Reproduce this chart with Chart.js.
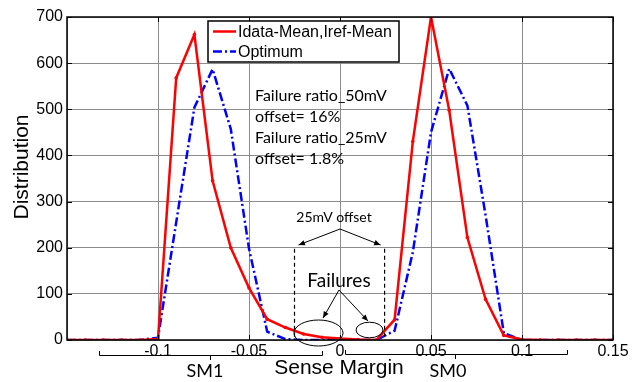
<!DOCTYPE html>
<html>
<head>
<meta charset="utf-8">
<script src="https://cdn.jsdelivr.net/npm/chart.js@4.4.1/dist/chart.umd.min.js"></script>
<style>
  html, body { margin: 0; padding: 0; background: #ffffff; }
  #wrap { width: 632px; height: 382px; position: relative; }
</style>
</head>
<body>
<div id="wrap"><canvas id="c" width="632" height="382"></canvas></div>
<script>
// ---- data ----
const senseMargin = [-0.15, -0.14, -0.13, -0.12, -0.11, -0.10, -0.09, -0.08, -0.07, -0.06,
                     -0.05, -0.04, -0.03, -0.02, -0.01, 0.00, 0.01, 0.02, 0.03, 0.04,
                     0.05, 0.06, 0.07, 0.08, 0.09, 0.10, 0.11, 0.12, 0.13, 0.14, 0.15];
const idataMean = [0, 0, 0, 0, 0, 2, 568, 662, 345, 200,
                   113, 45, 27, 13, 6, 3, 1, 0, 44, 430,
                   700, 498, 222, 88, 10, 1, 0, 0, 0, 0, 0];
const optimum   = [0, 0, 0, 0, 0, 5, 255, 504, 587, 457,
                   198, 18, 2, 0, 0, 0, 0, 0, 20, 190,
                   450, 588, 508, 270, 15, 0, 0, 0, 0, 0, 0];
const seriesNames = ["Idata-Mean,Iref-Mean", "Optimum"];
const xTicks = [-0.1, -0.05, 0, 0.05, 0.1, 0.15];
const yTicks = [0, 100, 200, 300, 400, 500, 600, 700];
const noteLines = ["Failure ratio_50mV", "offset= 16%", "Failure ratio_25mV", "offset= 1.8%"];
const offsetLabel = "25mV offset";
const failuresLabel = "Failures";
const xTitle = "Sense Margin";
const yTitle = "Distribution";
const groupLabels = ["SM1", "SM0"];

const toPts = (ys) => ys.map((y, i) => ({ x: senseMargin[i], y: y }));
const fmt = (v) => String(parseFloat(Number(v).toFixed(3)));

const ARIAL = "'Liberation Sans', Arial, sans-serif";
const CAL = "Lato, 'Open Sans', sans-serif";

function arrow(ctx, x1, y1, x2, y2) {
  ctx.beginPath(); ctx.moveTo(x1, y1); ctx.lineTo(x2, y2); ctx.stroke();
  const a = Math.atan2(y2 - y1, x2 - x1), L = 7, w = 0.4;
  ctx.beginPath();
  ctx.moveTo(x2, y2);
  ctx.lineTo(x2 - L * Math.cos(a - w), y2 - L * Math.sin(a - w));
  ctx.lineTo(x2 - L * Math.cos(a + w), y2 - L * Math.sin(a + w));
  ctx.closePath(); ctx.fill();
}

const decor = {
  id: 'decor',
  afterDraw(chart) {
    const ctx = chart.ctx, xs = chart.scales.x, ys = chart.scales.y, ca = chart.chartArea;
    ctx.save();
    // inward tick marks
    ctx.strokeStyle = '#000'; ctx.lineWidth = 1;
    xTicks.forEach(v => {
      const px = Math.round(xs.getPixelForValue(v)) + 0.5;
      ctx.beginPath(); ctx.moveTo(px, ca.bottom); ctx.lineTo(px, ca.bottom - 5); ctx.stroke();
      ctx.beginPath(); ctx.moveTo(px, ca.top); ctx.lineTo(px, ca.top + 5); ctx.stroke();
    });
    yTicks.forEach(v => {
      const py = Math.round(ys.getPixelForValue(v)) + 0.5;
      ctx.beginPath(); ctx.moveTo(ca.left, py); ctx.lineTo(ca.left + 5, py); ctx.stroke();
      ctx.beginPath(); ctx.moveTo(ca.right, py); ctx.lineTo(ca.right - 5, py); ctx.stroke();
    });
    // frame
    ctx.lineWidth = 1.5;
    ctx.strokeRect(ca.left, ca.top, ca.right - ca.left, ca.bottom - ca.top);

    // legend box
    const lx = 208, ly = 21, lw = 191, lh = 41;
    ctx.fillStyle = '#fff'; ctx.fillRect(lx, ly, lw, lh);
    ctx.lineWidth = 1.5; ctx.strokeStyle = '#000'; ctx.strokeRect(lx, ly, lw, lh);
    const ds = chart.data.datasets;
    [[ds[0], 31.5], [ds[1], 51.5]].forEach(([d, yy]) => {
      ctx.strokeStyle = d.borderColor; ctx.lineWidth = 2.5;
      ctx.setLineDash(d.borderDash || []);
      ctx.beginPath(); ctx.moveTo(213, yy); ctx.lineTo(236, yy); ctx.stroke();
      ctx.setLineDash([]);
      ctx.fillStyle = '#000'; ctx.font = "16px " + ARIAL;
      ctx.textAlign = 'left'; ctx.textBaseline = 'middle';
      ctx.fillText(d.label, 238, yy + 1);
    });

    // note text
    ctx.fillStyle = '#000'; ctx.font = "16px " + CAL;
    ctx.textAlign = 'left'; ctx.textBaseline = 'middle';
    noteLines.forEach((t, i) => ctx.fillText(t, 255, 96 + i * 21));

    // 25mV offset dashed lines
    const xl = xs.getPixelForValue(-0.025), xr = xs.getPixelForValue(0.0245);
    const ytop = ys.getPixelForValue(200) + 1;
    ctx.strokeStyle = '#000'; ctx.lineWidth = 1.2; ctx.setLineDash([4, 3]);
    ctx.beginPath(); ctx.moveTo(xl, ytop); ctx.lineTo(xl, ca.bottom); ctx.stroke();
    ctx.beginPath(); ctx.moveTo(xr, ytop); ctx.lineTo(xr, ca.bottom); ctx.stroke();
    ctx.setLineDash([]);
    ctx.font = "14px " + CAL; ctx.textAlign = 'center';
    ctx.fillText(offsetLabel, 334, 217);
    ctx.lineWidth = 1; ctx.fillStyle = '#000';
    arrow(ctx, 340, 229, xl + 4, 245);
    arrow(ctx, 340, 229, xr - 4, 245);

    // Failures
    ctx.font = "19px " + CAL; ctx.textAlign = 'center';
    ctx.fillText(failuresLabel, 339, 281);
    arrow(ctx, 339, 290, 323, 318);
    arrow(ctx, 339, 290, 368, 321);
    ctx.lineWidth = 1;
    ctx.beginPath(); ctx.ellipse(318.5, 333, 24.5, 13, 0, 0, Math.PI * 2); ctx.stroke();
    ctx.beginPath(); ctx.ellipse(369.5, 330, 13.5, 7.8, 0, 0, Math.PI * 2); ctx.stroke();

    // brackets under x axis
    ctx.lineWidth = 1; ctx.strokeStyle = '#000';
    const br = (x1, x2, xc, y) => {
      ctx.beginPath();
      ctx.moveTo(x1 + 0.5, y - 4); ctx.lineTo(x1 + 0.5, y + 0.5); ctx.lineTo(x2 + 0.5, y + 0.5); ctx.lineTo(x2 + 0.5, y - 4);
      ctx.moveTo(xc + 0.5, y); ctx.lineTo(xc + 0.5, y + 5);
      ctx.stroke();
    };
    br(99, 322, 210, 355);
    br(345, 567, 455, 354);

    // group labels and axis titles
    ctx.fillStyle = '#000';
    ctx.font = "18px " + CAL; ctx.textAlign = 'center'; ctx.textBaseline = 'middle';
    ctx.fillText(groupLabels[0], 205, 371);
    ctx.fillText(groupLabels[1], 448, 371);
    ctx.font = "21px " + ARIAL;
    ctx.fillText(xTitle, 339, 368);
    ctx.save();
    ctx.translate(22, 167); ctx.rotate(-Math.PI / 2);
    ctx.fillText(yTitle, 0, 0);
    ctx.restore();
    ctx.restore();
  }
};

new Chart(document.getElementById('c'), {
  type: 'line',
  data: {
    datasets: [
      {
        label: seriesNames[0], data: toPts(idataMean),
        borderColor: '#ff0000', backgroundColor: '#ff0000', borderWidth: 2.5,
        pointRadius: 1.8, pointBorderWidth: 0, pointBackgroundColor: '#ff0000', tension: 0
      },
      {
        label: seriesNames[1], data: toPts(optimum),
        borderColor: '#0000ff', backgroundColor: '#0000ff', borderWidth: 2.5,
        borderDash: [9, 3, 2, 3], pointRadius: 0, tension: 0
      }
    ]
  },
  options: {
    responsive: false, animation: false, devicePixelRatio: 1,
    layout: { padding: { left: 0, right: 19, top: 17, bottom: 0 } },
    plugins: { legend: { display: false }, tooltip: { enabled: false } },
    scales: {
      x: {
        type: 'linear', min: -0.15, max: 0.15,
        afterFit: (s) => { s.height = 42; },
        afterBuildTicks: (s) => { s.ticks = [-0.15].concat(xTicks).map(v => ({ value: v })); },
        ticks: {
          color: '#000', font: { family: ARIAL, size: 16 }, padding: 2, maxRotation: 0,
          autoSkip: false,
          callback: (v) => (Math.abs(v + 0.15) < 1e-6 ? '' : fmt(v))
        },
        grid: { color: '#8c8c8c', lineWidth: 1, drawTicks: false },
        border: { display: false }
      },
      y: {
        min: 0, max: 700,
        afterFit: (s) => { s.width = 67; },
        afterBuildTicks: (s) => { s.ticks = yTicks.map(v => ({ value: v })); },
        ticks: { color: '#000', font: { family: ARIAL, size: 16 }, padding: 4 },
        grid: { color: '#8c8c8c', lineWidth: 1, drawTicks: false },
        border: { display: false }
      }
    }
  },
  plugins: [decor]
});
</script>
</body>
</html>
